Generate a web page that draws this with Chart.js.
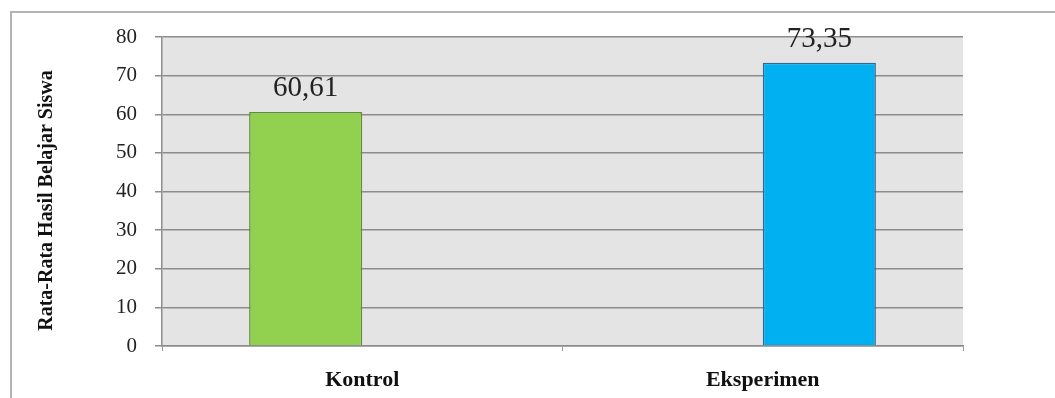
<!DOCTYPE html>
<html>
<head>
<meta charset="utf-8">
<script src="https://cdn.jsdelivr.net/npm/chart.js@4.4.1/dist/chart.umd.min.js"></script>
<style>
  html, body { margin: 0; padding: 0; background: #fff; }
  #wrap { width: 1055px; height: 398px; position: relative; }
</style>
</head>
<body>
<div id="wrap"><canvas id="hasilChart"></canvas></div>
<script>
// Rata-rata hasil belajar per kelas
const categories = ['Kontrol', 'Eksperimen'];
const kontrolValues = [60.61, null];
const eksperimenValues = [null, 73.35];
const yTicks = [0, 10, 20, 30, 40, 50, 60, 70, 80];
const yTitle = 'Rata-Rata Hasil Belajar Siswa';

const SERIF = '"Liberation Serif", "Times New Roman", serif';

function formatComma(v) {
    return v.toFixed(2).replace('.', ',');
}

// grey plot background + outer frame
const frame = {
    id: 'frame',
    beforeDraw(chart) {
        const { ctx, chartArea: a } = chart;
        ctx.save();
        ctx.fillStyle = '#e4e4e4';
        ctx.fillRect(a.left, a.top, a.right - a.left, a.bottom - a.top);
        ctx.strokeStyle = '#b4b4b4';
        ctx.lineWidth = 2;
        ctx.beginPath();
        ctx.moveTo(11, chart.height);
        ctx.lineTo(11, 12);
        ctx.lineTo(chart.width, 12);
        ctx.stroke();
        ctx.restore();
    }
};

// rotated y-axis title, sits a little below the plot's middle
const axisTitle = {
    id: 'axisTitle',
    afterDraw(chart) {
        const { ctx, chartArea: a } = chart;
        ctx.save();
        ctx.translate(47, (a.top + a.bottom) / 2 + 9);
        ctx.rotate(-Math.PI / 2);
        ctx.font = 'bold 20px ' + SERIF;
        ctx.fillStyle = '#111';
        ctx.textAlign = 'center';
        ctx.textBaseline = 'middle';
        ctx.fillText(yTitle, 0, 0);
        ctx.restore();
    }
};

// value labels above each bar
const valueLabels = {
    id: 'valueLabels',
    afterDatasetsDraw(chart) {
        const { ctx } = chart;
        ctx.save();
        ctx.font = '29px ' + SERIF;
        ctx.fillStyle = '#222';
        ctx.textAlign = 'center';
        ctx.textBaseline = 'alphabetic';
        chart.data.datasets.forEach((ds, i) => {
            chart.getDatasetMeta(i).data.forEach((bar, j) => {
                const v = ds.data[j];
                if (v == null) return;
                ctx.fillText(formatComma(v), bar.x, bar.y - 16);
            });
        });
        ctx.restore();
    }
};

const hasilChart = new Chart(document.getElementById('hasilChart'), {
    type: 'bar',
    data: {
        labels: categories,
        datasets: [
            { label: 'Kontrol', data: kontrolValues, backgroundColor: '#92d050', borderColor: '#5f8f3a', borderWidth: 1.5 },
            { label: 'Eksperimen', data: eksperimenValues, backgroundColor: '#00b0f0', borderColor: '#2d6a96', borderWidth: 1.5 }
        ]
    },
    options: {
        responsive: true,
        maintainAspectRatio: false,
        animation: false,
        categoryPercentage: 0.565,
        barPercentage: 1,
        layout: { padding: { left: 11, top: 37, right: 92, bottom: 0 } },
        plugins: { legend: { display: false }, tooltip: { enabled: false } },
        scales: {
            x: {
                grid: { drawOnChartArea: false, drawTicks: true, tickLength: 5, color: '#999' },
                border: { color: '#8c8c8c', width: 1.5 },
                ticks: { color: '#111', padding: 16, font: { family: SERIF, size: 22, weight: 'bold' } },
                afterFit(scale) { scale.height = 52; }
            },
            y: {
                min: 0,
                max: 80,
                afterBuildTicks(scale) { scale.ticks = yTicks.map(v => ({ value: v })); },
                grid: { color: '#8c8c8c', lineWidth: 1.5, tickLength: 7 },
                border: { color: '#8c8c8c', width: 1.5 },
                ticks: { color: '#222', padding: 18, font: { family: SERIF, size: 21 } },
                afterFit(scale) { scale.width = 151; }
            }
        }
    },
    plugins: [frame, axisTitle, valueLabels]
});
</script>
</body>
</html>
